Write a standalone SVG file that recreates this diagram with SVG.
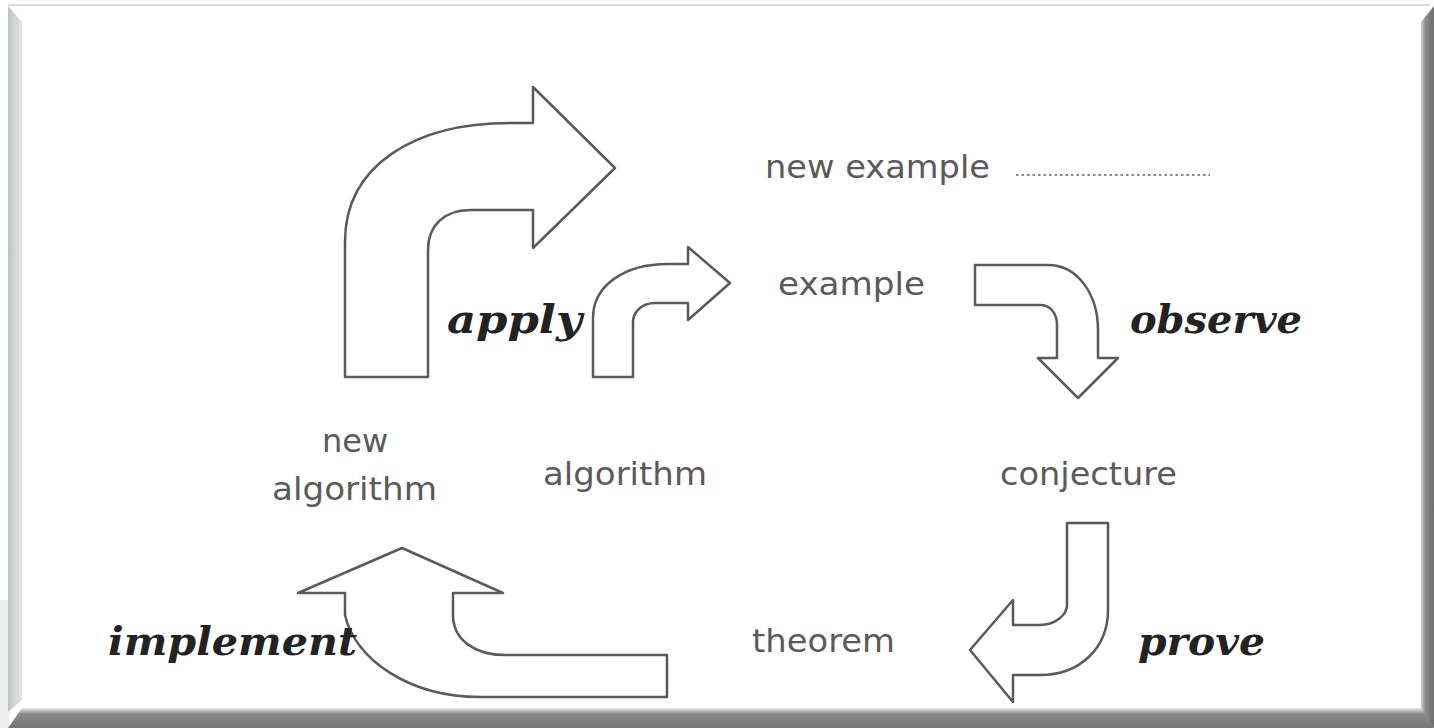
<svg xmlns="http://www.w3.org/2000/svg" width="1434" height="728" viewBox="0 0 1434 728">
<defs>
<linearGradient id="lg" x1="0" y1="0" x2="1" y2="0"><stop offset="0" stop-color="#bfc4c0"/><stop offset="1" stop-color="#e4e6e4"/></linearGradient>
<linearGradient id="rg" x1="0" y1="0" x2="1" y2="0"><stop offset="0" stop-color="#d0d0d0"/><stop offset="0.35" stop-color="#8a8a8a"/><stop offset="1" stop-color="#6e6e6e"/></linearGradient>
<linearGradient id="bg" x1="0" y1="0" x2="0" y2="1"><stop offset="0" stop-color="#e8e8e8"/><stop offset="0.3" stop-color="#8a8a8a"/><stop offset="1" stop-color="#757575"/></linearGradient>
<filter id="soft" x="-5%" y="-5%" width="110%" height="110%"><feGaussianBlur stdDeviation="0.6"/></filter>
</defs>
<style>
.arr{fill:#fff;stroke:#5a5a5a;stroke-width:2.5;stroke-linejoin:round}
.node{font-family:"DejaVu Sans",sans-serif;font-size:32px;fill:#5a5a5a}
.lab{font-family:"DejaVu Serif",serif;font-size:40px;font-weight:bold;font-style:italic;fill:#222}
</style>
<rect x="0" y="0" width="1434" height="728" fill="#fff"/>
<g id="frame">
<rect x="0" y="600" width="9" height="128" fill="#ececec"/>
<line x1="8" y1="5" x2="1430" y2="5" stroke="#dcdcdc" stroke-width="2"/>
<polygon points="8,6 22,22 22,700 8,712" fill="url(#lg)"/>
<polygon points="1434,6 1421,22 1421,712 1434,728" fill="url(#rg)"/>
<polygon points="8,728 22,708 1421,708 1434,728" fill="url(#bg)"/>
</g>
<g id="connectors" filter="url(#soft)">
<path id="apply-big" class="arr" d="M345,377 L345,242 C345,165 415,123 510,123 L533,123 L533,87 L615,168 L533,248 L533,210 L470,210 C445,210 428,225 428,250 L428,377 Z"/>
<path id="apply-small" class="arr" d="M593,377 L593,318 C593,285 625,264 668,264 L688,264 L688,247 L730,283 L688,320 L688,303 L655,303 C642,303 633,312 633,322 L633,377 Z"/>
<path id="observe-arrow" class="arr" d="M975,265 L1048,265 C1078,265 1098,295 1098,330 L1098,358 L1118,358 L1078,398 L1038,358 L1057,358 L1057,325 C1057,313 1050,305 1040,305 L975,305 Z"/>
<path id="prove-arrow" class="arr" d="M1067,523 L1108,523 L1108,610 C1108,648 1080,675 1040,675 L1013,675 L1013,702 L970,650 L1013,600 L1013,625 L1040,625 C1055,625 1067,615 1067,605 Z"/>
<path id="implement-arrow" class="arr" d="M402,548 L503,593 L453,593 L453,615 C453,640 475,655 505,655 L667,655 L667,697 L480,697 C410,697 355,660 345,615 L345,593 L298,593 Z"/>
<line id="dots" x1="1016" y1="175" x2="1210" y2="175" stroke="#888" stroke-width="2" stroke-dasharray="2.5,3"/>
</g>
<g id="n-new-example"><text class="node" x="765" y="178" textLength="225" lengthAdjust="spacingAndGlyphs">new example</text></g>
<g id="n-example"><text class="node" x="778" y="295" textLength="147" lengthAdjust="spacingAndGlyphs">example</text></g>
<g id="n-new-algorithm"><text class="node" x="355" y="452" text-anchor="middle">new</text><text class="node" x="272" y="500" textLength="165" lengthAdjust="spacingAndGlyphs">algorithm</text></g>
<g id="n-algorithm"><text class="node" x="543" y="485" textLength="164" lengthAdjust="spacingAndGlyphs">algorithm</text></g>
<g id="n-conjecture"><text class="node" x="1000" y="485" textLength="177" lengthAdjust="spacingAndGlyphs">conjecture</text></g>
<g id="n-theorem"><text class="node" x="752" y="652" textLength="143" lengthAdjust="spacingAndGlyphs">theorem</text></g>
<g id="labels">
<text class="lab" x="447" y="333" textLength="135" lengthAdjust="spacingAndGlyphs">apply</text>
<text class="lab" x="1130" y="333" textLength="172" lengthAdjust="spacingAndGlyphs">observe</text>
<text class="lab" x="1138" y="655" textLength="127" lengthAdjust="spacingAndGlyphs">prove</text>
<text class="lab" x="108" y="655" textLength="249" lengthAdjust="spacingAndGlyphs">implement</text>
</g>
</svg>
